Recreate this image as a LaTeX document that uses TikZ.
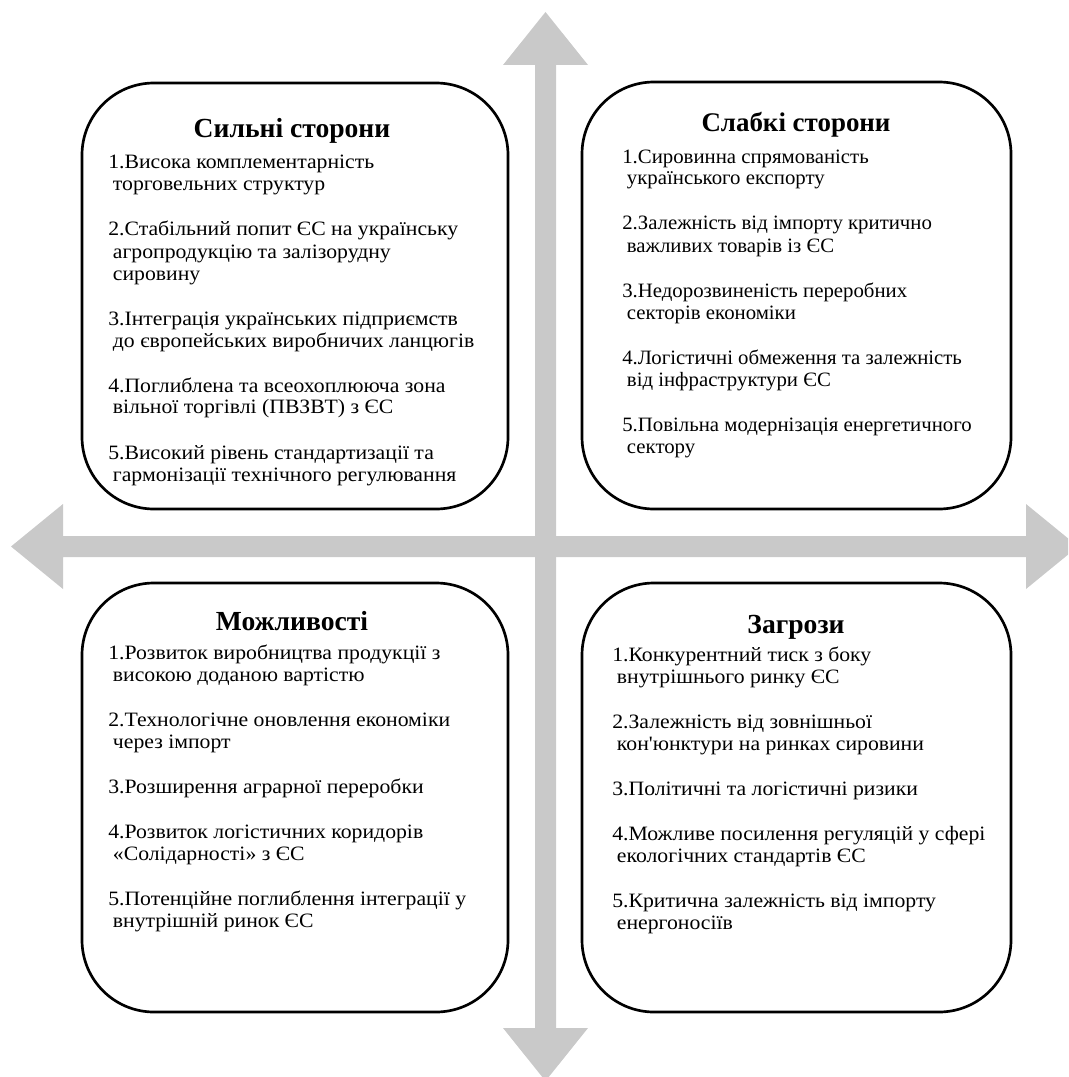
\documentclass[tikz,border=0pt]{standalone}
\usepackage{fontspec}
\setmainfont{Liberation Serif}[Ligatures=TeXOff]
\newfontfamily\bodywide{Liberation Serif}[Ligatures=TeXOff, FakeStretch=1.065]
\newfontfamily\bodynarrow{Liberation Serif}[Ligatures=TeXOff, FakeStretch=1.02]
\usetikzlibrary{fit}
\definecolor{arrowgray}{RGB}{201,201,201}
\tikzset{
  box/.style={draw=black, line width=2pt, rounded corners=54pt, inner sep=0pt, fill=white},
  title/.style={anchor=base, inner sep=0pt, font=\fontsize{20.7pt}{24pt}\selectfont\bfseries},
  items/.style={anchor=base west, inner sep=0pt}
}
\newcommand{\itemlist}[2]{\parbox[t]{360pt}{#1\fontsize{15.3pt}{16.5pt}\selectfont\lineskiplimit=-100pt\raggedright\parindent=0pt\parskip=17.25pt #2}}
\newcommand{\ci}{\\\hspace*{3.5pt}}
\begin{document}
\begin{tikzpicture}[x=0.75pt, y=-0.75pt]
\useasboundingbox (0,0) rectangle (1068,1077);
\begin{scope}
\clip (0,0) rectangle (1068,1077);
% vertical double arrow
\fill[arrowgray] (535,65) -- (503,65) -- (545.5,12) -- (588,65) -- (556,65) -- (556,1028) -- (588,1028) -- (545.5,1081) -- (503,1028) -- (535,1028) -- cycle;
% horizontal double arrow
\fill[arrowgray] (63,536) -- (63,504) -- (11,546.5) -- (63,589) -- (63,557) -- (1026,557) -- (1026,589) -- (1078,546.5) -- (1026,504) -- (1026,536) -- cycle;
\end{scope}

% boxes
\coordinate (s1) at (82,83);  \coordinate (s2) at (508,509);
\coordinate (w1) at (582,82); \coordinate (w2) at (1011,509);
\coordinate (o1) at (82,583); \coordinate (o2) at (508,1012);
\coordinate (t1) at (582,583); \coordinate (t2) at (1011,1012);
\node[box, fit=(s1)(s2)] (S) {};
\node[box, fit=(w1)(w2)] (W) {};
\node[box, fit=(o1)(o2)] (O) {};
\node[box, fit=(t1)(t2)] (T) {};

% titles
\node[title] (Stitle) at (292,138) {Сильні сторони};
\node[title, font=\fontsize{20.2pt}{24pt}\selectfont\bfseries] (Wtitle) at (796,132) {Слабкі сторони};
\node[title] (Otitle) at (292,630) {Можливості};
\node[title] (Ttitle) at (796,633) {Загрози};

% items
\node[items] (Sitems) at (108,169) {\itemlist{\bodywide}{%
1.Висока комплементарність\ci торговельних структур\par
2.Стабільний попит ЄС на українську\ci агропродукцію та залізорудну\ci сировину\par
3.Інтеграція українських підприємств\ci до європейських виробничих ланцюгів\par
4.Поглиблена та всеохоплююча зона\ci вільної торгівлі (ПВЗВТ) з ЄС\par
5.Високий рівень стандартизації та\ci гармонізації технічного регулювання}};

\node[items] (Witems) at (622,163) {\itemlist{\bodynarrow}{%
1.Сировинна спрямованість\ci українського експорту\par
2.Залежність від імпорту критично\ci важливих товарів із ЄС\par
3.Недорозвиненість переробних\ci секторів економіки\par
4.Логістичні обмеження та залежність\ci від інфраструктури ЄС\par
5.Повільна модернізація енергетичного\ci сектору}};

\node[items] (Oitems) at (108,659) {\itemlist{\bodywide}{%
1.Розвиток виробництва продукції з\ci високою доданою вартістю\par
2.Технологічне оновлення економіки\ci через імпорт\par
3.Розширення аграрної переробки\par
4.Розвиток логістичних коридорів\ci «Солідарності» з ЄС\par
5.Потенційне поглиблення інтеграції у\ci внутрішній ринок ЄС}};

\node[items] (Titems) at (612,661) {\itemlist{\bodywide}{%
1.Конкурентний тиск з боку\ci внутрішнього ринку ЄС\par
2.Залежність від зовнішньої\ci кон'юнктури на ринках сировини\par
3.Політичні та логістичні ризики\par
4.Можливе посилення регуляцій у сфері\ci екологічних стандартів ЄС\par
5.Критична залежність від імпорту\ci енергоносіїв}};
\end{tikzpicture}
\end{document}
